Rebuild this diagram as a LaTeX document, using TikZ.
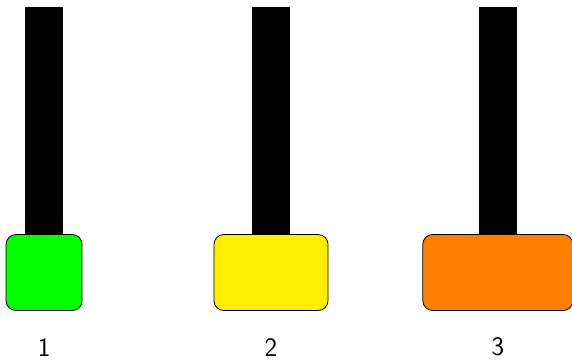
\documentclass[tikz,border=0pt]{standalone}
\usepackage{fontspec}
\usepackage{tikz}
\usetikzlibrary{positioning}
\definecolor{diskgreen}{HTML}{00FF00}
\definecolor{diskyellow}{HTML}{FFEE00}
\definecolor{diskorange}{HTML}{FF8000}

\begin{document}
\begin{tikzpicture}[
  peg/.style={rectangle, fill=black, minimum width=1cm, minimum height=5.97cm, inner sep=0pt},
  disk/.style={rectangle, draw=black, line width=0.6pt, rounded corners=0.26cm, minimum height=2cm, inner sep=0pt},
  pegnum/.style={font=\sffamily\fontsize{20}{22}\selectfont, inner sep=0pt}]
  \useasboundingbox (0,0) rectangle (15.05,9.45);

  % pegs
  \node[peg, anchor=south] (peg1) at (1.16,3.29) {};
  \node[peg, anchor=south] (peg2) at (7.13,3.29) {};
  \node[peg, anchor=south] (peg3) at (13.1,3.29) {};

  % disks
  \node[disk, fill=diskgreen, minimum width=2cm, anchor=north] (disk1) at (peg1.south) {};
  \node[disk, fill=diskyellow, minimum width=3cm, anchor=north] (disk2) at (peg2.south) {};
  \node[disk, fill=diskorange, minimum width=3.95cm, anchor=north] (disk3) at (peg3.south) {};

  % numbers
  \node[pegnum] (num1) at ([yshift=-0.95cm]disk1.south) {1};
  \node[pegnum] (num2) at ([yshift=-0.95cm]disk2.south) {2};
  \node[pegnum] (num3) at ([yshift=-0.95cm]disk3.south) {3};
\end{tikzpicture}
\end{document}
